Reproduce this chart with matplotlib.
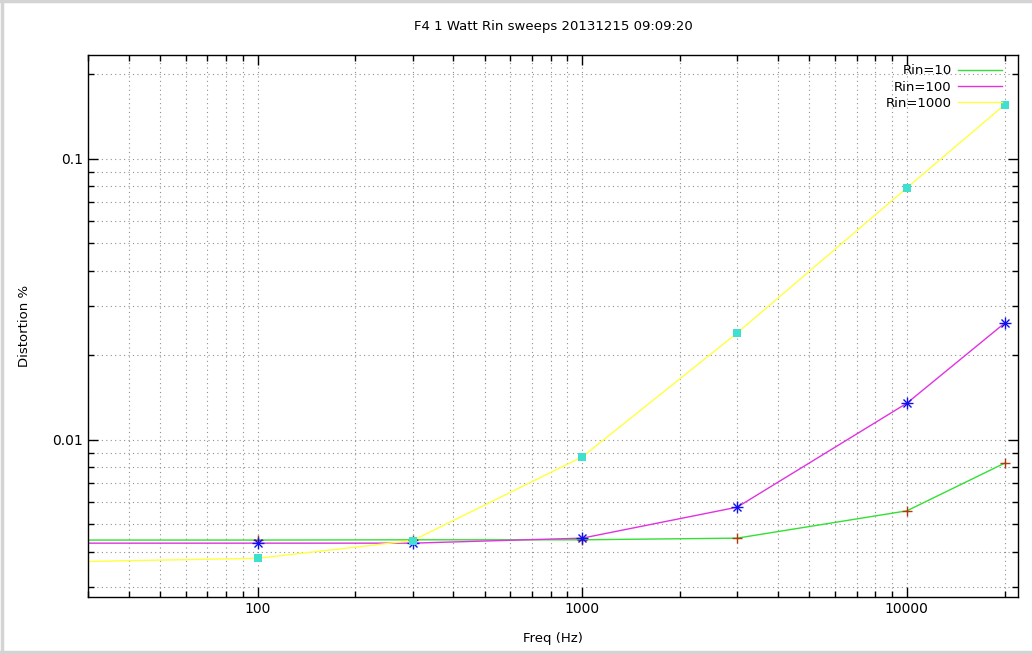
import matplotlib
matplotlib.use("Agg")
import matplotlib.pyplot as plt
from matplotlib.ticker import LogLocator, FixedLocator, NullFormatter, FixedFormatter
from matplotlib.lines import Line2D

freq = [20, 100, 300, 1000, 3000, 10000, 20000]
rin10 = [0.00440, 0.00440, 0.00441, 0.00441, 0.00447, 0.00559, 0.00826]
rin100 = [0.00429, 0.00429, 0.00429, 0.00447, 0.00576, 0.0135, 0.0260]
rin1000 = [0.00366, 0.00379, 0.00438, 0.00870, 0.0240, 0.0788, 0.1556]

x_ticks = [100, 1000, 10000]
x_labels = ["100", "1000", "10000"]
y_ticks = [0.01, 0.1]
y_labels = ["0.01", "0.1"]

plt.rcParams["font.family"] = "DejaVu Sans"
fig = plt.figure(figsize=(10.32, 6.54), dpi=100)
ax = fig.add_axes([88 / 1032, 1 - 597 / 654, 930 / 1032, 542 / 654])

ax.plot(freq, rin10, color="#33e033", lw=1, label="Rin=10")
ax.plot(freq, rin100, color="#e033e0", lw=1, label="Rin=100")
ax.plot(freq, rin1000, color="#ffff40", lw=1, label="Rin=1000")

ax.plot(freq, rin10, ls="none", marker="+", ms=7, mew=1, color="#b03a10")
ax.plot(freq, rin100, ls="none", marker="+", ms=8, mew=1, color="#1010ee")
ax.plot(freq, rin100, ls="none", marker="x", ms=6, mew=1, color="#1010ee")
ax.plot(freq, rin1000, ls="none", marker="s", ms=6, mew=0, color="#40e0d0")

ax.set_xscale("log")
ax.set_yscale("log")
ax.set_xlim(30, 22000)
ax.set_ylim(0.00276, 0.234)

ax.xaxis.set_major_locator(FixedLocator(x_ticks))
ax.xaxis.set_major_formatter(FixedFormatter(x_labels))
ax.yaxis.set_major_locator(FixedLocator(y_ticks))
ax.yaxis.set_major_formatter(FixedFormatter(y_labels))
ax.xaxis.set_minor_locator(LogLocator(base=10, subs=range(2, 10), numticks=20))
ax.yaxis.set_minor_locator(LogLocator(base=10, subs=range(2, 10), numticks=20))
ax.xaxis.set_minor_formatter(NullFormatter())
ax.yaxis.set_minor_formatter(NullFormatter())

ax.tick_params(which="both", direction="in", top=True, right=True, labelsize=10)
ax.tick_params(which="major", length=7, width=1)
ax.tick_params(which="minor", length=4, width=1)
ax.grid(True, which="both", color="#909090", ls=(0, (1, 3)), lw=0.8)
for s in ax.spines.values():
    s.set_linewidth(1)

ax.set_title("F4 1 Watt Rin sweeps 20131215 09:09:20", fontsize=9.5, pad=18)
ax.set_xlabel("Freq (Hz)", fontsize=9.5)
ax.set_ylabel("Distortion %", fontsize=9.5)
ax.xaxis.set_label_coords(0.5, -35 / 542)
ax.yaxis.set_label_coords(-57 / 930, 0.5)

leg = ax.legend(loc="upper right", frameon=False, fontsize=9.5, markerfirst=False,
                handlelength=3.3, handletextpad=0.5, borderaxespad=0.3,
                labelspacing=0.25, bbox_to_anchor=(1 - 7 / 930, 1))
for t in leg.get_texts():
    t.set_ha("right")

# grey window frame on left, top and bottom
for xs, ys in [([0.0015, 0.0015], [0, 1]), ([0, 1], [0.998, 0.998]), ([0, 1], [0.0035, 0.0035])]:
    fig.lines.append(Line2D(xs, ys, transform=fig.transFigure, color="#d4d4d4", lw=2.5))

plt.savefig("out.png", dpi=100)
plt.close()
